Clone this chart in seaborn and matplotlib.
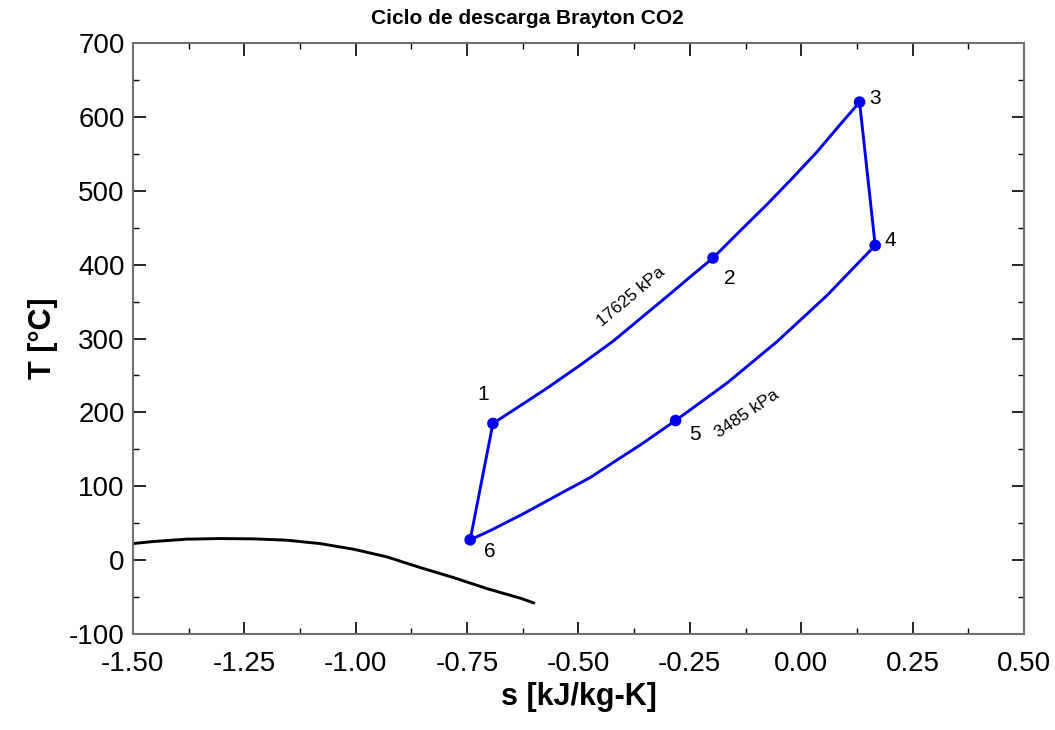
import matplotlib
matplotlib.use("Agg")
import matplotlib.pyplot as plt
import seaborn as sns
import pandas as pd
from matplotlib.ticker import MultipleLocator, FormatStrFormatter

# ---- data ----
# state points 1..6
state_labels = ["1", "2", "3", "4", "5", "6"]
state_s = [-0.692, -0.198, 0.131, 0.166, -0.282, -0.743]
state_T = [185.0, 409.0, 620.0, 426.0, 189.0, 27.5]

# high-pressure isobar (17625 kPa): 1 -> 2 -> 3
hp_s = [-0.692, -0.646, -0.570, -0.496, -0.421, -0.361, -0.301, -0.248, -0.198,
        -0.140, -0.076, -0.020, 0.036, 0.085, 0.131]
hp_T = [185.0, 203.0, 233.0, 264.0, 297.0, 327.0, 357.0, 384.0, 409.0,
        444.0, 482.0, 517.0, 553.0, 588.0, 620.0]

# expansion 3 -> 4
exp_s = [0.131, 0.166]
exp_T = [620.0, 426.0]

# low-pressure isobar (3485 kPa): 4 -> 5 -> 6
lp_s = [0.166, 0.118, 0.059, 0.000, -0.054, -0.110, -0.166, -0.241, -0.282,
        -0.361, -0.420, -0.473, -0.550, -0.623, -0.698, -0.743]
lp_T = [426.0, 396.0, 359.0, 326.0, 296.0, 268.0, 240.0, 207.0, 189.0,
        156.0, 133.0, 112.0, 87.0, 63.0, 40.0, 27.5]

# compression 6 -> 1
comp_s = [-0.743, -0.692]
comp_T = [27.5, 185.0]

# saturation dome (black curve)
sat_s = [-1.500, -1.454, -1.379, -1.304, -1.230, -1.155, -1.080, -1.005, -0.930,
         -0.855, -0.780, -0.705, -0.630, -0.600]
sat_T = [22.4, 25.2, 28.4, 29.2, 28.8, 27.0, 22.4, 14.8, 4.4,
         -10.1, -23.7, -38.6, -51.6, -58.0]

# ---- figure ----
sns.set_theme(style="white")
plt.rcParams["font.family"] = ["Liberation Sans", "DejaVu Sans"]
plt.rcParams["axes.unicode_minus"] = False
plt.rcParams["text.color"] = "black"
plt.rcParams["axes.labelcolor"] = "black"

fig = plt.figure(figsize=(10.55, 7.3), dpi=100)
ax = fig.add_axes([0.126, 0.1315, 0.8446, 0.8096])

cycle = pd.DataFrame({
    "s": hp_s + exp_s + lp_s + comp_s,
    "T": hp_T + exp_T + lp_T + comp_T,
})
sat = pd.DataFrame({"s": sat_s, "T": sat_T})
states = pd.DataFrame({"s": state_s, "T": state_T, "lab": state_labels})

sns.lineplot(data=sat, x="s", y="T", sort=False, estimator=None, color="black", lw=2.1, ax=ax)
sns.lineplot(data=cycle, x="s", y="T", sort=False, estimator=None, color="#0000ee", lw=2.1, ax=ax)
sns.scatterplot(data=states, x="s", y="T", color="#0000ee", s=70, edgecolor="none", ax=ax, zorder=5)

# point labels
lab_pos = {"1": (-0.713, 224), "2": (-0.161, 381), "3": (0.165, 625),
           "4": (0.199, 432), "5": (-0.239, 170), "6": (-0.700, 12)}
for lab, (xs, yt) in lab_pos.items():
    ax.text(xs, yt, lab, fontsize=15, ha="center", va="center", color="black")

ax.text(-0.381, 357, "17625 kPa", fontsize=12.5, rotation=40, ha="center", va="center",
        rotation_mode="anchor", color="black")
ax.text(-0.122, 198, "3485 kPa", fontsize=12.5, rotation=34, ha="center", va="center",
        rotation_mode="anchor", color="black")

ax.xaxis.set_major_locator(MultipleLocator(0.25))
ax.xaxis.set_minor_locator(MultipleLocator(0.125))
ax.yaxis.set_major_locator(MultipleLocator(100))
ax.yaxis.set_minor_locator(MultipleLocator(50))
ax.xaxis.set_major_formatter(FormatStrFormatter("%.2f"))
ax.set_xlim(-1.5, 0.5)
ax.set_ylim(-100, 700)
ax.tick_params(which="both", direction="in", top=True, right=True, bottom=True, left=True,
               colors="black", labelsize=20)
ax.tick_params(axis="x", which="both", pad=12)
ax.tick_params(axis="y", which="both", pad=6)
ax.tick_params(which="major", length=9, width=1.2)
ax.tick_params(which="minor", length=4.5, width=1.0)
for sp in ax.spines.values():
    sp.set_color("#707070")
    sp.set_linewidth(1.5)

ax.set_xlabel("s [kJ/kg-K]", fontsize=22, fontweight="bold", labelpad=4)
ax.set_ylabel("T [°C]", fontsize=22, fontweight="bold", labelpad=8)

fig.text(0.5, 0.975, "Ciclo de descarga Brayton CO2", ha="center", va="center",
         fontsize=15, fontweight="bold", color="black")

fig.savefig("out.png", dpi=100)
